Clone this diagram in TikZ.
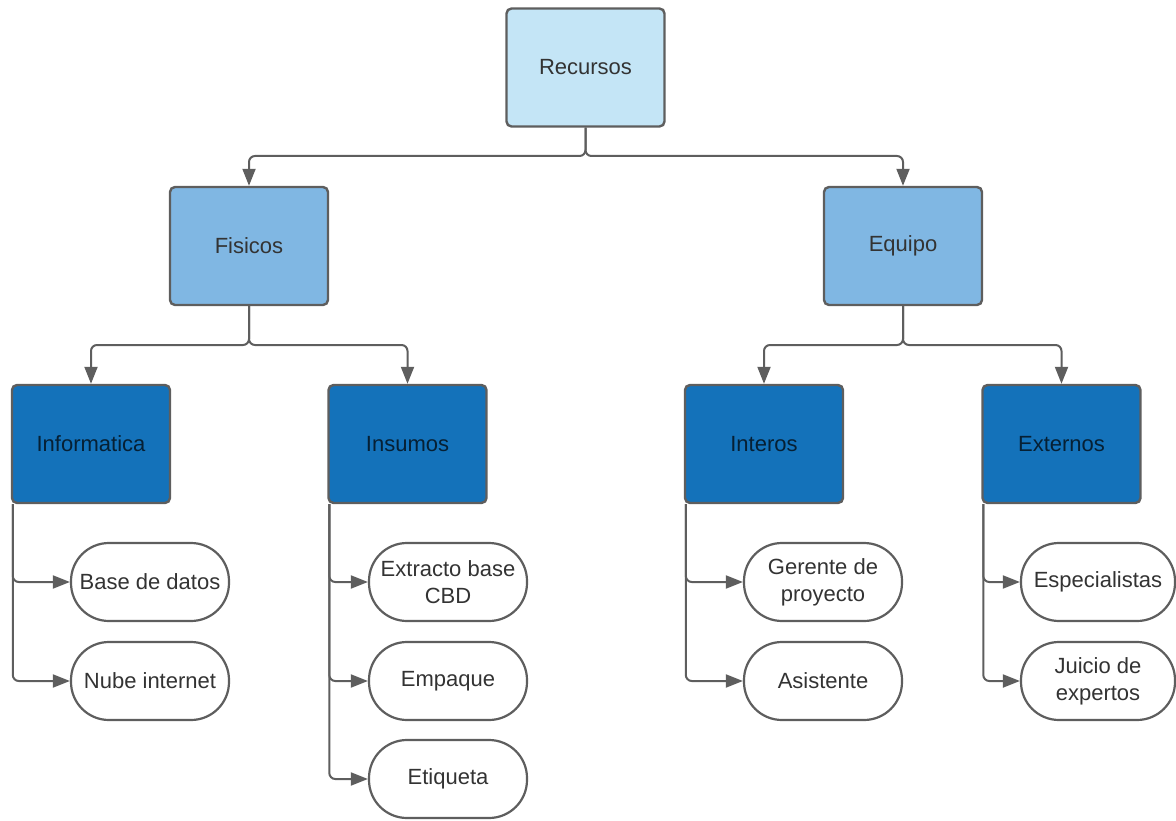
\documentclass[tikz,border=0pt]{standalone}
\usepackage{fontspec}
\setmainfont{Liberation Sans}
\usetikzlibrary{arrows.meta}
\definecolor{edge}{HTML}{5E5E5E}
\definecolor{txt}{HTML}{333333}
\definecolor{lvlA}{HTML}{C4E5F6}
\definecolor{lvlB}{HTML}{80B7E3}
\definecolor{lvlC}{HTML}{1472BA}
\tikzset{
  x=1pt, y=-1pt,
  box/.style={draw=edge, line width=2.4pt, rounded corners=5pt, minimum width=158pt,
    minimum height=118pt, text=txt, font=\fontsize{22}{27}\selectfont, align=center},
  topbox/.style={box, fill=lvlA},
  midbox/.style={box, fill=lvlB},
  lowbox/.style={box, fill=lvlC, text=black!72!lvlC},
  pill/.style={draw=edge, line width=2.2pt, fill=white, rounded corners=38pt,
    minimum width=158pt, minimum height=78pt, text=txt,
    font=\fontsize{22}{27}\selectfont, align=center, inner sep=2pt},
  link/.style={draw=edge, line width=2pt, rounded corners=6pt,
    -{Triangle[length=17pt, width=13pt]}},
}
\begin{document}
\begin{tikzpicture}
\useasboundingbox (0,0) rectangle (1176,821);

% tree of categories
\node[topbox] (rec) at (585.5,67.5) {Recursos};
\node[midbox] (fis) at (249,246) {Fisicos};
\node[midbox] (equ) at (903,246) {Equipo};
\node[lowbox] (inf) at (91,444) {Informatica};
\node[lowbox] (ins) at (407.5,444) {Insumos};
\node[lowbox] (int) at (764,444) {Interos};
\node[lowbox] (ext) at (1061.5,444) {Externos};

% leaves
\node[pill] (bd)  at (150,582) {Base de datos};
\node[pill] (nub) at (150,681) {Nube internet};
\node[pill] (exb) at (448,582) {Extracto base\\CBD};
\node[pill] (emp) at (448,681) {Empaque};
\node[pill] (eti) at (448,779) {Etiqueta};
\node[pill] (ger) at (823,582) {Gerente de\\proyecto};
\node[pill] (asi) at (823,681) {Asistente};
\node[pill] (esp) at (1098,582) [minimum width=154pt] {Especialistas};
\node[pill] (jui) at (1098,681) [minimum width=154pt] {Juicio de\\expertos};

% bus connectors between levels
\draw[link] (rec.south) -- (585.5,156) -| (fis.north);
\draw[link] (rec.south) -- (585.5,156) -| (equ.north);
\draw[link] (fis.south) -- (249,345) -| (inf.north);
\draw[link] (fis.south) -- (249,345) -| (ins.north);
\draw[link] (equ.south) -- (903,345) -| (int.north);
\draw[link] (equ.south) -- (903,345) -| (ext.north);

% side trunks to the leaves
\draw[link] ([xshift=2pt]inf.south west) |- (bd.west);
\draw[link] ([xshift=2pt]inf.south west) |- (nub.west);
\draw[link] ([xshift=2pt]ins.south west) |- (exb.west);
\draw[link] ([xshift=2pt]ins.south west) |- (emp.west);
\draw[link] ([xshift=2pt]ins.south west) |- (eti.west);
\draw[link] ([xshift=2pt]int.south west) |- (ger.west);
\draw[link] ([xshift=2pt]int.south west) |- (asi.west);
\draw[link] ([xshift=2pt]ext.south west) |- (esp.west);
\draw[link] ([xshift=2pt]ext.south west) |- (jui.west);
\end{tikzpicture}
\end{document}
